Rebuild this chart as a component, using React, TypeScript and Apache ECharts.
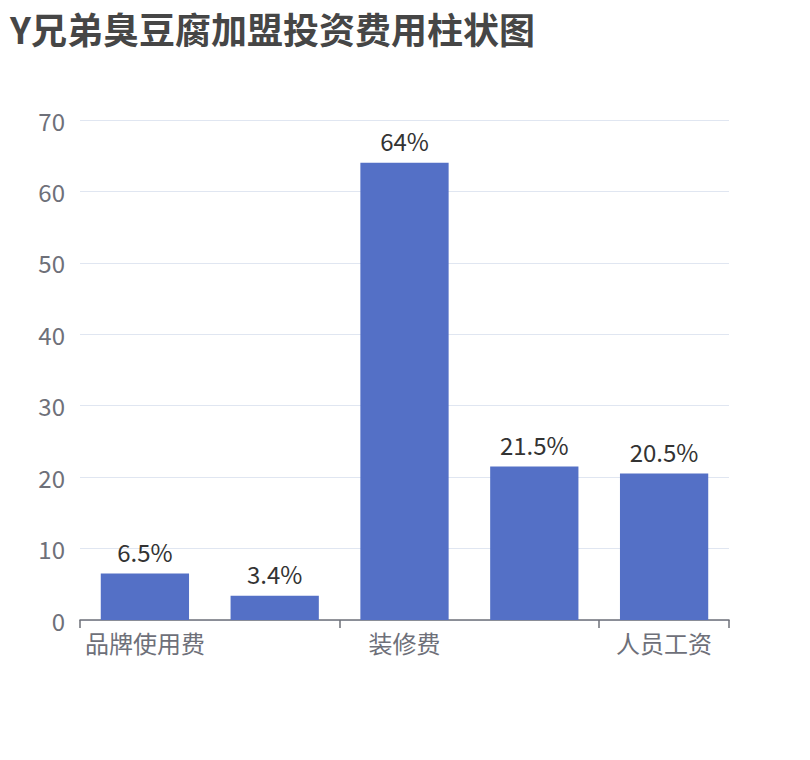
import React, { useEffect, useRef } from 'react';
import * as echarts from 'echarts';

const categories = ['品牌使用费', '设备购置费', '装修费', '房租押金', '人员工资'];
const values = [6.5, 3.4, 64, 21.5, 20.5];

const App: React.FC = () => {
  const chartRef = useRef<HTMLDivElement>(null);

  useEffect(() => {
    const myChart = echarts.init(chartRef.current!, null, { renderer: 'svg' });

    const option = {
      animation: false,
      textStyle: { fontFamily: '"Noto Sans CJK SC", sans-serif' },
      title: {
        text: 'Y兄弟臭豆腐加盟投资费用柱状图',
        left: 0,
        top: 2,
        padding: [0, 2],
        textStyle: { fontSize: 36, fontWeight: 'bold', color: '#464646' },
      },
      grid: {
        left: 72,
        right: 73,
        top: 112,
        bottom: 132,
      },
      xAxis: {
        type: 'category',
        data: categories,
        axisLine: { lineStyle: { color: '#6E7079', width: 1.5 } },
        axisTick: { show: true, interval: 1, length: 8, lineStyle: { color: '#6E7079', width: 1.5 } },
        axisLabel: { fontSize: 24, color: '#6E7079', interval: 1, margin: 10 },
      },
      yAxis: {
        type: 'value',
        min: 0,
        max: 70,
        interval: 10,
        axisLabel: { fontSize: 24, color: '#6E7079', margin: 15 },
        splitLine: { lineStyle: { color: '#E0E6F1' } },
      },
      series: [
        {
          type: 'bar',
          data: values,
          barWidth: '68%',
          itemStyle: { color: '#5470c6' },
          label: {
            show: true,
            position: 'top',
            distance: 10,
            formatter: '{c}%',
            fontSize: 24,
            color: '#333',
          },
        },
      ],
    };

    myChart.setOption(option);

    return () => {
      myChart.dispose();
    };
  }, []);

  return <div ref={chartRef} style={{ width: '794px', height: '744px' }} />;
};

export default App;
